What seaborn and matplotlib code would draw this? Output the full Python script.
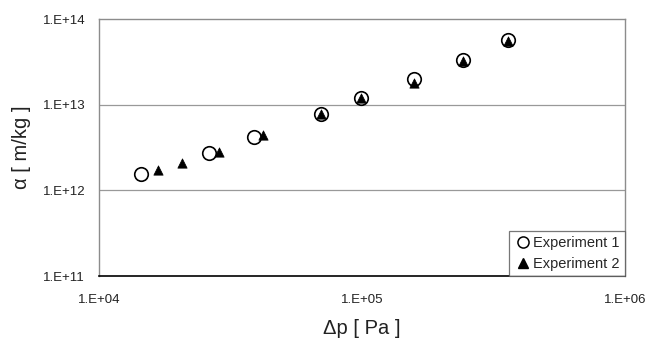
import matplotlib
matplotlib.use("Agg")
import matplotlib.pyplot as plt
from matplotlib.ticker import FixedLocator, FuncFormatter, NullLocator
from matplotlib.lines import Line2D
import numpy as np
import pandas as pd
import seaborn as sns

# ── Data ──────────────────────────────────────────────────────────
exp1_dp = [1.44e4, 2.62e4, 3.9e4, 7.0e4, 9.9e4, 1.57e5, 2.43e5, 3.6e5]
exp1_alpha = [1.55e12, 2.75e12, 4.2e12, 7.8e12, 1.2e13, 2.0e13, 3.3e13, 5.7e13]
exp2_dp = [1.68e4, 2.07e4, 2.86e4, 4.2e4, 7.0e4, 9.9e4, 1.57e5, 2.43e5, 3.6e5]
exp2_alpha = [1.73e12, 2.08e12, 2.8e12, 4.4e12, 7.8e12, 1.2e13, 1.8e13, 3.25e13, 5.5e13]
series_names = ["Experiment 1", "Experiment 2"]
x_ticks = [1e4, 1e5, 1e6]
y_ticks = [1e11, 1e12, 1e13, 1e14]

df1 = pd.DataFrame({"dp": exp1_dp, "alpha": exp1_alpha})
df2 = pd.DataFrame({"dp": exp2_dp, "alpha": exp2_alpha})

sns.set_theme(style="white")
plt.rcParams["font.family"] = ["Liberation Sans", "DejaVu Sans"]

fig = plt.figure(figsize=(6.47, 3.40), dpi=100)
ax = fig.add_axes([0.153, 0.188, 0.813, 0.756])

sns.scatterplot(data=df1, x="dp", y="alpha", ax=ax, marker="o", s=95,
                facecolor="white", edgecolor="black", linewidth=1.2, zorder=3)
sns.scatterplot(data=df2, x="dp", y="alpha", ax=ax, marker="^", s=45,
                color="black", edgecolor="black", linewidth=0.5, zorder=4)

ax.set_xscale("log")
ax.set_yscale("log")
ax.set_xlim(1e4, 1e6)
ax.set_ylim(1e11, 1e14)

fmt = FuncFormatter(lambda v, p: "1.E+%02d" % int(round(np.log10(v))))
ax.xaxis.set_major_locator(FixedLocator(x_ticks))
ax.yaxis.set_major_locator(FixedLocator(y_ticks))
ax.xaxis.set_minor_locator(NullLocator())
ax.yaxis.set_minor_locator(NullLocator())
ax.xaxis.set_major_formatter(fmt)
ax.yaxis.set_major_formatter(fmt)
ax.tick_params(axis="x", direction="in", length=3, width=0.8, color="#888888",
               pad=13, labelsize=9.5, labelcolor="#222222")
ax.tick_params(axis="y", length=0, pad=10, labelsize=9.5, labelcolor="#222222")

for yv in [1e12, 1e13]:
    ax.axhline(yv, color="#999999", lw=0.9, zorder=1)

for side in ["left", "top", "right"]:
    ax.spines[side].set_color("#8c8c8c")
    ax.spines[side].set_linewidth(1.0)
ax.spines["bottom"].set_color("black")
ax.spines["bottom"].set_linewidth(1.2)

ax.set_xlabel("Δp [ Pa ]", fontsize=14.5, labelpad=9, color="#222222")
ax.set_ylabel("α [ m/kg ]", fontsize=14.5, labelpad=8, color="#222222")

handles = [
    Line2D([], [], marker="o", linestyle="none", markersize=8,
           markerfacecolor="white", markeredgecolor="black", markeredgewidth=1.1),
    Line2D([], [], marker="^", linestyle="none", markersize=7,
           markerfacecolor="black", markeredgecolor="black"),
]
leg = ax.legend(handles, series_names, loc="lower right", fontsize=10.5,
                frameon=True, fancybox=False, borderaxespad=0.0,
                handletextpad=0.1, handlelength=1.2, borderpad=0.35,
                labelspacing=0.45)
leg.get_frame().set_edgecolor("#555555")
leg.get_frame().set_linewidth(0.9)

fig.savefig("out.png", dpi=100)
